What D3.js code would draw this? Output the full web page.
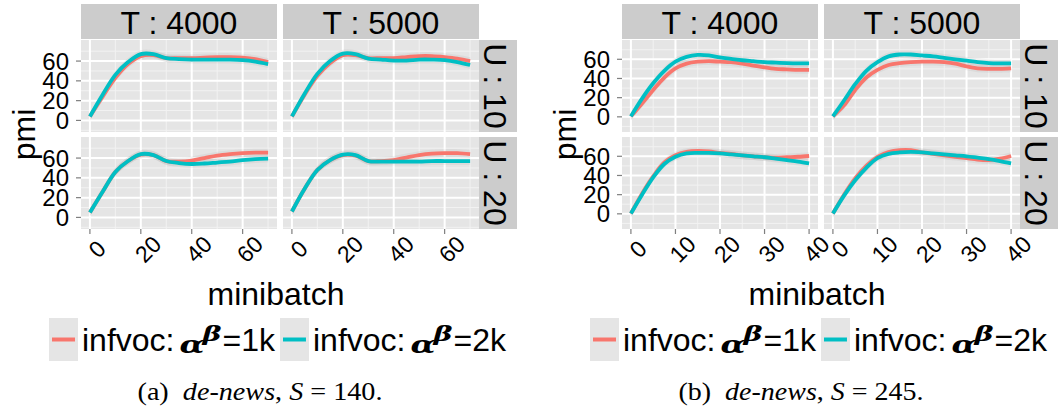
<!DOCTYPE html>
<html lang="en">
<head>
<meta charset="UTF-8">
<script src="https://cdn.jsdelivr.net/npm/d3@7"></script>
<style>
  body { margin: 0; background: #fff; }
  text { font-family: "Liberation Sans", Helvetica, Arial, sans-serif; fill: #000; }
</style>
<title>pmi vs minibatch</title>
</head>
<body>
<script>
const W = 1063, H = 409;

// ---- data ----
const minibatchA = [0, 5, 10, 15, 20, 25, 30, 35, 40, 45, 50, 55, 60, 65, 70];
const minibatchB = [0, 2.5, 5, 7.5, 10, 12.5, 15, 17.5, 20, 22.5, 25, 27.5, 30, 32.5, 35, 37.5, 40];

// (a) S = 140
const a_T4000_U10_1k = [4, 24, 43, 57, 65, 66, 63, 63, 63, 63.5, 64, 64, 63.5, 62, 59];
const a_T4000_U10_2k = [4, 26, 46, 59, 67, 67, 63, 62, 61.5, 61.5, 61.5, 61.5, 61, 59.5, 57];
const a_T5000_U10_1k = [4, 26, 45, 58, 66, 66, 63, 63, 63, 64, 65, 65, 64, 62.5, 60];
const a_T5000_U10_2k = [4, 27, 47, 60, 67.5, 67, 62.5, 61.5, 60.5, 60.5, 61.5, 61.5, 61, 59, 56];
const a_T4000_U20_1k = [5, 26, 46, 57, 63.5, 63, 57, 56.5, 57.5, 60, 62.5, 64, 65, 65.5, 65.5];
const a_T4000_U20_2k = [5, 26, 46, 57, 64, 63, 57, 55, 54, 54.5, 55.5, 56.5, 58, 59, 59.5];
const a_T5000_U20_1k = [6, 29, 48, 58, 63, 62.5, 57, 57, 58, 60.5, 63, 64.5, 65, 65, 64];
const a_T5000_U20_2k = [6, 29, 48, 58, 63.5, 63, 57, 56.5, 56.5, 56.5, 56.5, 57, 57, 57, 57];

// (b) S = 245
const b_T4000_U10_1k = [0.5, 14, 28, 41, 50.5, 55.5, 57.5, 58, 57.5, 57, 55.5, 53.5, 51.5, 50, 49.5, 49, 49];
const b_T4000_U10_2k = [0.5, 19, 35, 48, 57.5, 62.5, 64.5, 64, 62, 60.5, 59, 58, 57, 56.5, 56, 55.7, 55.7];
const b_T5000_U10_1k = [0.5, 12, 28, 41, 49, 54, 56, 57, 57.5, 57.5, 57, 55.5, 52.5, 50.5, 50, 50, 50.5];
const b_T5000_U10_2k = [0.5, 17, 34, 48, 57, 63, 65, 65, 64, 63, 61.5, 60, 58.5, 57, 56, 55.7, 55.7];
const b_T4000_U20_1k = [0.3, 21, 39, 53.5, 61, 64.5, 65.5, 65, 63.5, 62.5, 61, 60, 59, 58.5, 59, 59.5, 60.3];
const b_T4000_U20_2k = [0.3, 20, 38, 52, 59.5, 63, 63.5, 63.5, 63, 62, 61, 60, 59, 57.5, 56, 54.5, 52.7];
const b_T5000_U20_1k = [0.3, 20, 37, 50, 59.5, 64.5, 66.5, 66.5, 64, 62.5, 61, 59.5, 58, 56.5, 56, 57.5, 60.3];
const b_T5000_U20_2k = [0.3, 19, 35, 48, 58, 62.5, 64, 64.5, 64, 63, 62, 61, 60, 58.5, 57, 55, 52.7];

const tLabels = ["T : 4000", "T : 5000"];
const uLabels = ["U : 10", "U : 20"];
const seriesKeys = ["1k", "2k"];
const colors = ["#F8766D", "#00BFC4"];
const yTicks = [0, 20, 40, 60];
const xTicksA = [0, 20, 40, 60];
const xTicksB = [0, 10, 20, 30, 40];
const captionTags = ["(a)", "(b)"];
const captionS = ["140", "245"];

// ---- layout ----
const panelW = 196, panelGap = 6;
const rowTop = [40, 137], rowH = 92;
const stripTop = 4, stripH = 35, stripRW = 38;

const svg = d3.select("body").append("svg").attr("width", W).attr("height", H);

const figures = [
  {
    x0: 81, xs: minibatchA, xDomain: [-3.5, 73.5], yDomain: [-11.7, 81.3],
    xTicks: xTicksA, xMinor: [10, 30, 50, 70],
    panels: [[[a_T4000_U10_1k, a_T4000_U10_2k], [a_T5000_U10_1k, a_T5000_U10_2k]],
             [[a_T4000_U20_1k, a_T4000_U20_2k], [a_T5000_U20_1k, a_T5000_U20_2k]]],
    tag: captionTags[0], S: captionS[0]
  },
  {
    x0: 622, xs: minibatchB, xDomain: [-2, 42], yDomain: [-15.8, 80.1],
    xTicks: xTicksB, xMinor: [5, 15, 25, 35],
    panels: [[[b_T4000_U10_1k, b_T4000_U10_2k], [b_T5000_U10_1k, b_T5000_U10_2k]],
             [[b_T4000_U20_1k, b_T4000_U20_2k], [b_T5000_U20_1k, b_T5000_U20_2k]]],
    tag: captionTags[1], S: captionS[1]
  }
];

const yMinor = [-10, 10, 30, 50, 70];

function drawFigure(fig) {
  const g = svg.append("g");
  const x = d3.scaleLinear().domain(fig.xDomain).range([0, panelW]);
  const y = d3.scaleLinear().domain(fig.yDomain).range([rowH, 0]);

  for (let r = 0; r < 2; r++) {
    for (let c = 0; c < 2; c++) {
      const px = fig.x0 + c * (panelW + panelGap), py = rowTop[r];
      const p = g.append("g").attr("transform", `translate(${px},${py})`);

      p.append("rect").attr("width", panelW).attr("height", rowH).attr("fill", "#E5E5E5");

      // minor grid
      p.selectAll(".vmin").data(fig.xMinor).enter().append("line")
        .attr("x1", d => x(d)).attr("x2", d => x(d)).attr("y1", 0).attr("y2", rowH)
        .attr("stroke", "#F2F2F2").attr("stroke-width", 1);
      p.selectAll(".hmin").data(yMinor).enter().append("line")
        .attr("y1", d => y(d)).attr("y2", d => y(d)).attr("x1", 0).attr("x2", panelW)
        .attr("stroke", "#F2F2F2").attr("stroke-width", 1);
      // major grid
      p.selectAll(".vmaj").data(fig.xTicks).enter().append("line")
        .attr("x1", d => x(d)).attr("x2", d => x(d)).attr("y1", 0).attr("y2", rowH)
        .attr("stroke", "#fff").attr("stroke-width", 2);
      p.selectAll(".hmaj").data(yTicks).enter().append("line")
        .attr("y1", d => y(d)).attr("y2", d => y(d)).attr("x1", 0).attr("x2", panelW)
        .attr("stroke", "#fff").attr("stroke-width", 2);

      const series = fig.panels[r][c];
      const area = d3.area().x((d, i) => x(fig.xs[i])).y0(d => y(d - 4)).y1(d => y(d + 4))
        .curve(d3.curveCatmullRom.alpha(0.5));
      const line = d3.line().x((d, i) => x(fig.xs[i])).y(d => y(d))
        .curve(d3.curveCatmullRom.alpha(0.5));

      series.forEach(s => {
        p.append("path").attr("d", area(s)).attr("fill", "#999").attr("fill-opacity", 0.13);
      });
      series.forEach((s, k) => {
        p.append("path").attr("d", line(s)).attr("fill", "none")
          .attr("stroke", colors[k]).attr("stroke-width", 3.8)
          .attr("stroke-linejoin", "round").attr("stroke-linecap", "butt");
      });

      // top strip
      if (r === 0) {
        p.append("rect").attr("x", 0).attr("y", stripTop - py).attr("width", panelW)
          .attr("height", stripH).attr("fill", "#CCCCCC");
        p.append("text").attr("x", panelW / 2).attr("y", stripTop - py + 29.5)
          .attr("text-anchor", "middle").style("font-size", "32px").text(tLabels[c]);
      }
      // right strip
      if (c === 1) {
        p.append("rect").attr("x", panelW).attr("y", 0).attr("width", stripRW)
          .attr("height", rowH).attr("fill", "#CCCCCC");
        p.append("text")
          .attr("transform", `translate(${panelW + 4.5},${rowH / 2}) rotate(90)`)
          .attr("text-anchor", "middle").style("font-size", "32px").text(uLabels[r]);
      }
      // y axis
      if (c === 0) {
        p.selectAll(".yt").data(yTicks).enter().append("line")
          .attr("x1", -5).attr("x2", 0).attr("y1", d => y(d)).attr("y2", d => y(d))
          .attr("stroke", "#7F7F7F").attr("stroke-width", 1.2);
        p.selectAll(".yl").data(yTicks).enter().append("text")
          .attr("x", -12).attr("y", d => y(d)).attr("dy", "0.36em")
          .attr("text-anchor", "end").style("font-size", "24px").text(d => d);
      }
      // x axis
      if (r === 1) {
        p.selectAll(".xt").data(fig.xTicks).enter().append("line")
          .attr("x1", d => x(d)).attr("x2", d => x(d)).attr("y1", rowH).attr("y2", rowH + 5)
          .attr("stroke", "#7F7F7F").attr("stroke-width", 1.2);
        p.selectAll(".xl").data(fig.xTicks).enter().append("text")
          .attr("transform", d => `translate(${x(d) + 7},${rowH + 20}) rotate(-45)`)
          .attr("dy", "0.36em").attr("text-anchor", "middle")
          .style("font-size", "23px").text(d => d);
      }
    }
  }

  // axis titles
  g.append("text")
    .attr("transform", `translate(${fig.x0 - 46},${(rowTop[0] + rowTop[1] + rowH) / 2}) rotate(-90)`)
    .attr("text-anchor", "middle").style("font-size", "32px").text("pmi");
  g.append("text").attr("x", fig.x0 + 195).attr("y", 305)
    .attr("text-anchor", "middle").style("font-size", "32px").text("minibatch");

  // legend
  let lx = fig.x0 - 32;
  const ly = 318, keyW = 29, keyH = 43, base = 351;
  seriesKeys.forEach((k, i) => {
    g.append("rect").attr("x", lx).attr("y", ly).attr("width", keyW).attr("height", keyH)
      .attr("fill", "#E5E5E5");
    g.append("line").attr("x1", lx + 3).attr("x2", lx + keyW - 3)
      .attr("y1", ly + keyH / 2).attr("y2", ly + keyH / 2)
      .attr("stroke", colors[i]).attr("stroke-width", 4);
    let tx = lx + keyW + 4;
    const t1 = g.append("text").attr("x", tx).attr("y", base).style("font-size", "32px").text("infvoc:");
    tx += t1.node().getComputedTextLength() + 5;
    g.append("text").attr("x", tx).attr("y", base + 2)
      .attr("textLength", 25).attr("lengthAdjust", "spacingAndGlyphs")
      .style("font-family", "'DejaVu Serif', serif").style("font-style", "italic")
      .style("font-weight", "bold").style("font-size", "24px").text("α");
    tx += 23;
    g.append("text").attr("x", tx).attr("y", base - 10)
      .attr("textLength", 19).attr("lengthAdjust", "spacingAndGlyphs")
      .style("font-family", "'DejaVu Serif', serif").style("font-style", "italic")
      .style("font-weight", "bold").style("font-size", "21px").text("β");
    tx += 20;
    const t2 = g.append("text").attr("x", tx).attr("y", base).style("font-size", "32px").text("=" + k);
    lx = tx + t2.node().getComputedTextLength() + 5;
  });

  // caption
  const cap = g.append("text").attr("x", fig.x0 + 179).attr("y", 400)
    .attr("text-anchor", "middle")
    .attr("textLength", 245).attr("lengthAdjust", "spacingAndGlyphs")
    .style("font-family", "'Liberation Serif', 'Times New Roman', serif")
    .style("font-size", "25px").style("white-space", "pre");
  cap.append("tspan").text(fig.tag + "  ");
  cap.append("tspan").style("font-style", "italic").text("de-news");
  cap.append("tspan").text(", ");
  cap.append("tspan").style("font-style", "italic").text("S");
  cap.append("tspan").text(" = " + fig.S + ".");
}

figures.forEach(drawFigure);
</script>
</body>
</html>
